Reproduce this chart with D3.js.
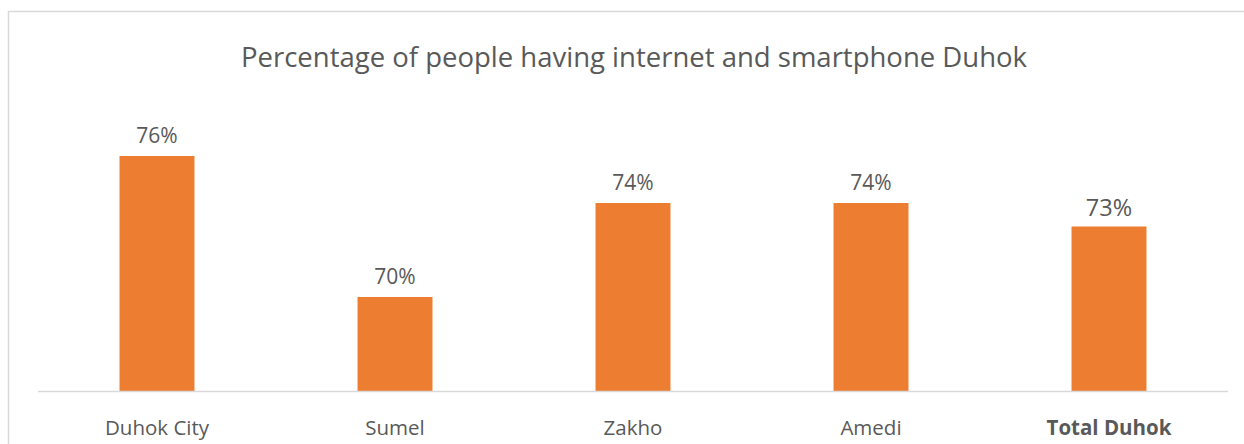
<!DOCTYPE html>
<html>
<head>
<meta charset="utf-8">
<script src="https://cdn.jsdelivr.net/npm/d3@7"></script>
<style>
  body { margin: 0; background: #fff; }
  svg text { font-family: "Open Sans", sans-serif; fill: #595959; }
</style>
</head>
<body>
<div id="chart"></div>
<script>
const width = 1244, height = 444;

// data
const categories = ["Duhok City", "Sumel", "Zakho", "Amedi", "Total Duhok"];
const values = [76, 70, 74, 74, 73];
const valueLabels = ["76%", "70%", "74%", "74%", "73%"];

const margin = {top: 62, right: 16, bottom: 53, left: 38};

const svg = d3.select("#chart")
  .append("svg")
    .attr("width", width)
    .attr("height", height);

// outer chart border
svg.append("rect")
  .attr("x", 8.5)
  .attr("y", 11.5)
  .attr("width", width)
  .attr("height", height)
  .attr("fill", "none")
  .attr("stroke", "#d9d9d9")
  .attr("stroke-width", 1.5);

// title
svg.append("text")
  .attr("x", 634)
  .attr("y", 67)
  .attr("text-anchor", "middle")
  .style("font-size", "27.5px")
  .text("Percentage of people having internet and smartphone Duhok");

const x = d3.scaleBand()
  .domain(categories)
  .range([margin.left, width - margin.right])
  .paddingInner(0.685)
  .paddingOuter(0.3425);

// value axis starts at 66%, not shown
const y = d3.scaleLinear()
  .domain([66, 80])
  .range([height - margin.bottom, margin.top]);

const rows = categories.map((c, i) => ({cat: c, v: values[i], label: valueLabels[i]}));

// bars
svg.append("g")
  .selectAll("rect")
  .data(rows)
  .join("rect")
    .attr("x", d => x(d.cat))
    .attr("y", d => y(d.v))
    .attr("width", x.bandwidth())
    .attr("height", d => y(66) - y(d.v))
    .attr("fill", "#ed7d31");

// baseline
svg.append("line")
  .attr("x1", margin.left)
  .attr("x2", width - margin.right)
  .attr("y1", y(66) + 0.5)
  .attr("y2", y(66) + 0.5)
  .attr("stroke", "#d9d9d9")
  .attr("stroke-width", 1.5);

// data labels
svg.append("g")
  .selectAll("text")
  .data(rows)
  .join("text")
    .attr("x", d => x(d.cat) + x.bandwidth() / 2)
    .attr("y", d => y(d.v) - (d.cat === "Total Duhok" ? 11 : 13))
    .attr("text-anchor", "middle")
    .style("font-size", d => d.cat === "Total Duhok" ? "23.5px" : "21px")
    .text(d => d.label);

// category labels
svg.append("g")
  .selectAll("text")
  .data(categories)
  .join("text")
    .attr("x", d => x(d) + x.bandwidth() / 2)
    .attr("y", 435)
    .attr("text-anchor", "middle")
    .style("font-size", "20.5px")
    .style("font-weight", d => d === "Total Duhok" ? "bold" : "normal")
    .text(d => d);
</script>
</body>
</html>
